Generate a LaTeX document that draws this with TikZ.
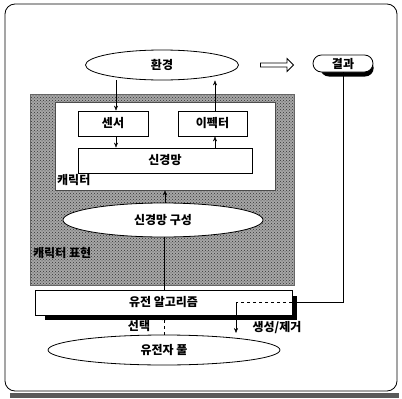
\documentclass[tikz,border=0pt]{standalone}
\usepackage{fontspec}
\setmainfont{Noto Sans CJK KR}
\usetikzlibrary{shapes.geometric,shapes.arrows,shapes.misc,arrows.meta,patterns}
\begin{document}
\begin{tikzpicture}[x=1pt,y=-1pt,
  every node/.style={font=\fontsize{12}{14}\selectfont\bfseries},
  box/.style={draw,thick,fill=white,inner sep=0pt},
  oval/.style={ellipse,draw,thick,fill=white,inner sep=0pt},
  arr/.style={-{Stealth[length=5pt,width=4pt]},thin},
  lbl/.style={inner sep=0pt}]
\useasboundingbox (0,0) rectangle (402,399);
% outer frame
\draw[thick,rounded corners=10pt] (5,4) rectangle (397,391);
\draw[line width=5pt,black!65] (10,395.5) -- (399,395.5);
% hatched character region
\fill[black!35] (30,94) rectangle (294,285);
\fill[pattern=crosshatch dots,pattern color=black!80] (30,94) rectangle (294,285);
\draw[thin,black!60] (30,94) rectangle (294,285);
\node[box,draw=black!70,minimum width=220pt,minimum height=88pt] (inner) at (165,146) {};
% nodes
\node[oval,minimum width=153pt,minimum height=30pt] (env) at (162,65) {환경};
\node[single arrow,draw,thick,fill=white,minimum height=33pt,minimum width=13pt,single arrow head extend=3pt,inner sep=1pt] (harrow) at (276,65) {};
\node[rounded rectangle,fill=black,minimum width=60pt,minimum height=17pt] (resshadow) at (347,68) {};
\node[rounded rectangle,draw,thick,fill=white,minimum width=60pt,minimum height=17pt,inner sep=0pt] (res) at (343,63.5) {결과};
\node[box,minimum width=70pt,minimum height=25pt] (sensor) at (113,123.5) {센서};
\node[box,minimum width=69pt,minimum height=25pt] (effector) at (212.5,123.5) {이펙터};
\node[box,minimum width=174pt,minimum height=25pt] (nn) at (165,160.5) {신경망};
\node[lbl,anchor=west] (charlbl) at (57,180) {캐릭터};
\node[oval,minimum width=200pt,minimum height=34pt] (nnc) at (163,220) {신경망 구성};
\node[lbl,anchor=west] (charexp) at (33,253) {캐릭터 표현};
\fill[black] (45,296) rectangle (297,320);
\node[box,minimum width=257pt,minimum height=25pt] (ga) at (163.5,302.5) {유전 알고리즘};
\node[oval,minimum width=232pt,minimum height=30pt] (pool) at (164,350) {유전자 풀};
\node[lbl] (sel) at (139,326) {선택};
\node[lbl] (gen) at (277,328) {생성/제거};
% connectors
\draw[arr] (env.south -| 116,0) -- (sensor.north -| 116,0);
\draw[arr] (sensor.south -| 116,0) -- (nn.north -| 116,0);
\draw[arr] (nn.north -| 215,0) -- (effector.south -| 215,0);
\draw[arr] (effector.north -| 215,0) -- (env.south -| 215,0);
\draw[arr] (nnc.north -| 165,0) -- (inner.south -| 165,0);
\draw[thin] (nnc.south -| 164,0) -- (ga.north -| 164,0);
\draw[arr,dashed] (pool.north) -- (ga.south -| 164,0);
\coordinate (turn) at (343,302);
\coordinate (drop) at (236,302);
\coordinate (dropend) at (236,333);
\draw[thin] (res.south) -- (turn) -- (297,302);
\draw[thin,dashed] (292,302) -- (drop);
\draw[arr] (drop) -- (dropend);
\end{tikzpicture}
\end{document}
